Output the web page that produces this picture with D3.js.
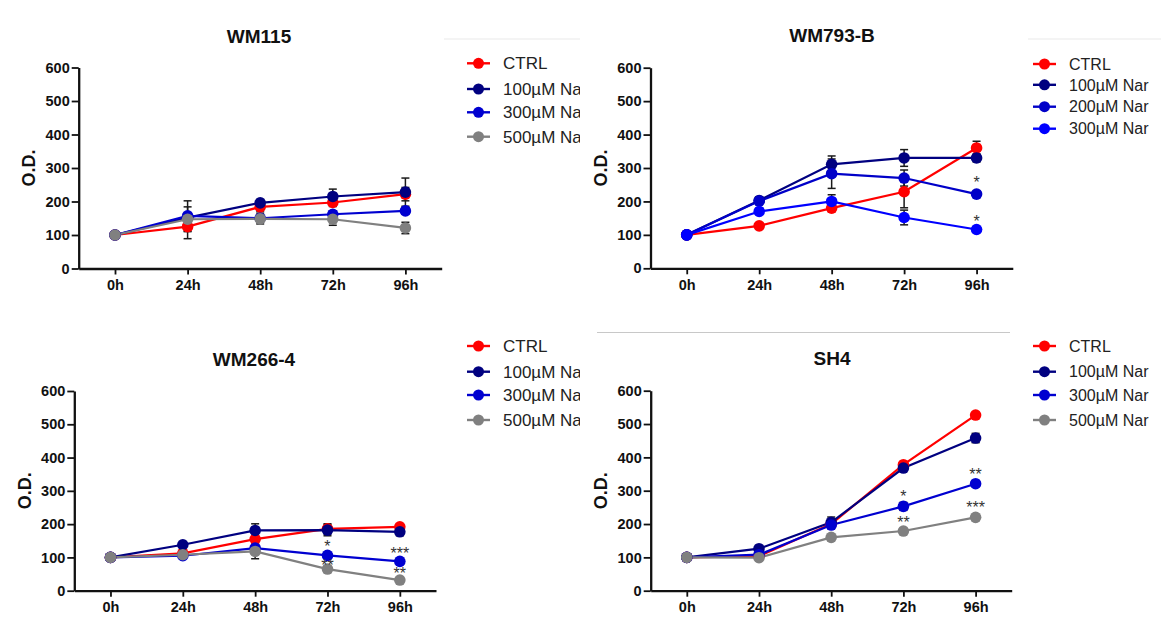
<!DOCTYPE html>
<html>
<head>
<meta charset="utf-8">
<script src="https://cdn.jsdelivr.net/npm/d3@7"></script>
<style>
body { margin: 0; background: #fff; }
svg text { font-family: Arial, "Liberation Sans", sans-serif; }
</style>
</head>
<body>
<svg id="chart" width="1161" height="630"></svg>
<script>
timeLabels = ["0h", "24h", "48h", "72h", "96h"]
yTicks = [0, 100, 200, 300, 400, 500, 600]

// WM115
wm115Names = ["CTRL", "100µM Nar", "300µM Nar", "500µM Nar"]
wm115Values = [
    [100, 125, 184, 197, 222],
    [100, 152, 196, 215, 228],
    [100, 157, 150, 162, 172],
    [100, 147, 148, 147, 121]]
wm115Errors = [
    [0, 36, 15, 12, 20],
    [0, 8, 10, 22, 42],
    [0, 45, 8, 10, 10],
    [0, 37, 15, 18, 17]]
wm115Stars = []

// WM793-B
wm793Names = ["CTRL", "100µM Nar", "200µM Nar", "300µM Nar"]
wm793Values = [
    [100, 127, 180, 229, 360],
    [100, 203, 311, 330, 330],
    [100, 201, 283, 270, 222],
    [100, 170, 200, 152, 116]]
wm793Errors = [
    [0, 8, 10, 48, 20],
    [0, 5, 25, 25, 12],
    [0, 5, 44, 24, 8],
    [0, 8, 20, 22, 8]]
wm793Stars = [["96h", 266, "*"], ["96h", 149, "*"]]

// WM266-4
wm266Names = ["CTRL", "100µM Nar", "300µM Nar", "500µM Nar"]
wm266Values = [
    [100, 112, 155, 186, 192],
    [100, 138, 181, 182, 177],
    [100, 105, 128, 106, 88],
    [100, 108, 118, 65, 32]]
wm266Errors = [
    [0, 5, 10, 15, 8],
    [0, 6, 20, 17, 12],
    [0, 5, 10, 8, 6],
    [0, 6, 22, 8, 5]]
wm266Stars = [["72h", 143, "*"], ["72h", 86, "**"], ["96h", 123, "***"], ["96h", 61, "**"]]

// SH4
sh4Names = ["CTRL", "100µM Nar", "300µM Nar", "500µM Nar"]
sh4Values = [
    [100, 104, 200, 378, 527],
    [100, 126, 205, 368, 458],
    [100, 108, 197, 253, 321],
    [100, 99, 160, 179, 220]]
sh4Errors = [
    [0, 4, 8, 8, 6],
    [0, 5, 16, 8, 14],
    [0, 4, 6, 12, 6],
    [0, 3, 6, 6, 6]]
sh4Stars = [["72h", 294, "*"], ["72h", 215, "**"], ["96h", 359, "**"], ["96h", 259, "***"]]

colorsA = ["#ff0000", "#000080", "#0000d0", "#808080"]
colorsB = ["#ff0000", "#000080", "#0000c8", "#0000ff"]

const svg = d3.select("#chart")

svg.append("defs").append("clipPath").attr("id", "clipLeft")
    .append("rect").attr("x", 0).attr("y", 0).attr("width", 580).attr("height", 630)

// faint frame lines left over from the pasted panels
svg.append("line").attr("x1", 444).attr("x2", 580).attr("y1", 39).attr("y2", 39)
    .attr("stroke", "#f0f0f0").attr("stroke-width", 1.5)
svg.append("line").attr("x1", 1028).attr("x2", 1161).attr("y1", 39).attr("y2", 39)
    .attr("stroke", "#f0f0f0").attr("stroke-width", 1.5)
svg.append("line").attr("x1", 597).attr("x2", 1010).attr("y1", 332.5).attr("y2", 332.5)
    .attr("stroke", "#c8c8c8").attr("stroke-width", 1.2)

panels = [
    { title: "WM115", names: wm115Names, values: wm115Values, errors: wm115Errors, stars: wm115Stars, colors: colorsA,
      left: 78.7, right: 441.7, top: 67.5, bottom: 268.5, titleX: 259, titleY: 43,
      legX: 467, legRows: [63.3, 89, 112.3, 136.7], legFont: 17, clip: true },
    { title: "WM793-B", names: wm793Names, values: wm793Values, errors: wm793Errors, stars: wm793Stars, colors: colorsB,
      left: 650.5, right: 1012.8, top: 67.7, bottom: 268.3, titleX: 832, titleY: 42,
      legX: 1033, legRows: [64, 84.8, 106.7, 128.7], legFont: 16, clip: false },
    { title: "WM266-4", names: wm266Names, values: wm266Values, errors: wm266Errors, stars: wm266Stars, colors: colorsA,
      left: 74.3, right: 436, top: 391, bottom: 590.7, titleX: 254, titleY: 366,
      legX: 467, legRows: [346, 371.7, 395, 420], legFont: 17, clip: true },
    { title: "SH4", names: sh4Names, values: sh4Values, errors: sh4Errors, stars: sh4Stars, colors: colorsA,
      left: 650.7, right: 1011.7, top: 390.7, bottom: 590.7, titleX: 832, titleY: 365,
      legX: 1033, legRows: [346, 371.7, 395, 420], legFont: 16, clip: false }
]

function draw_panel(p) {
    const g = svg.append("g")
    if (p.clip) g.attr("clip-path", "url(#clipLeft)")

    const x = d3.scalePoint().domain(timeLabels).range([p.left, p.right]).padding(0.5)
    const y = d3.scaleLinear().domain([0, 600]).range([p.bottom, p.top])

    const yAxis = g.append("g").attr("transform", "translate(" + p.left + ",0)")
        .call(d3.axisLeft(y).tickValues(yTicks).tickSize(7).tickSizeOuter(0).tickPadding(2))
    const xAxis = g.append("g").attr("transform", "translate(0," + p.bottom + ")")
        .call(d3.axisBottom(x).tickSize(6).tickSizeOuter(0).tickPadding(5))

    for (const ax of [yAxis, xAxis]) {
        ax.select(".domain").attr("stroke", "#111").attr("stroke-width", 2.3)
        ax.selectAll(".tick line").attr("stroke", "#111").attr("stroke-width", 1.8)
        ax.selectAll(".tick text").attr("fill", "#111").attr("font-size", 14.5)
            .attr("font-weight", "bold").attr("font-family", "Arial, 'Liberation Sans', sans-serif")
    }

    g.append("text")
        .attr("x", p.titleX).attr("y", p.titleY)
        .attr("text-anchor", "middle").attr("font-size", 19).attr("font-weight", "bold")
        .attr("fill", "#111").text(p.title)

    g.append("text")
        .attr("transform", "translate(" + (p.left - 50) + "," + ((p.top + p.bottom) / 2) + ") rotate(-90)")
        .attr("text-anchor", "middle").attr("font-size", 18).attr("font-weight", "bold")
        .attr("fill", "#111").attr("dy", "0.35em").text("O.D.")

    const line = d3.line().x((d, i) => x(timeLabels[i])).y(d => y(d))

    const series = g.append("g")
    p.values.forEach(function (vals, s) {
        series.append("path")
            .attr("d", line(vals))
            .attr("fill", "none")
            .attr("stroke", p.colors[s])
            .attr("stroke-width", 2.2)
    })

    // error bars sit behind the symbols
    const bars = series.append("g").attr("stroke", "#1a1a1a").attr("stroke-width", 1.5)
    p.values.forEach(function (vals, s) {
        vals.forEach(function (v, i) {
            const e = p.errors[s][i]
            if (e <= 0) return
            const cx = x(timeLabels[i])
            bars.append("line").attr("x1", cx).attr("x2", cx).attr("y1", y(v - e)).attr("y2", y(v + e))
            bars.append("line").attr("x1", cx - 4).attr("x2", cx + 4).attr("y1", y(v - e)).attr("y2", y(v - e))
            bars.append("line").attr("x1", cx - 4).attr("x2", cx + 4).attr("y1", y(v + e)).attr("y2", y(v + e))
        })
    })

    p.values.forEach(function (vals, s) {
        series.append("g").selectAll("circle")
            .data(vals)
            .join("circle")
            .attr("cx", (d, i) => x(timeLabels[i]))
            .attr("cy", d => y(d))
            .attr("r", 5.8)
            .attr("fill", p.colors[s])
    })

    g.append("g").selectAll("text")
        .data(p.stars)
        .join("text")
        .attr("x", d => x(d[0]))
        .attr("y", d => y(d[1]) + 9)
        .attr("text-anchor", "middle")
        .attr("font-size", 16)
        .attr("fill", "#333")
        .text(d => d[2])

    // legend
    const leg = g.append("g")
    p.names.forEach(function (name, s) {
        const ly = p.legRows[s]
        leg.append("line").attr("x1", p.legX).attr("x2", p.legX + 23).attr("y1", ly).attr("y2", ly)
            .attr("stroke", p.colors[s]).attr("stroke-width", 2.4)
        leg.append("circle").attr("cx", p.legX + 11.5).attr("cy", ly).attr("r", 5.5).attr("fill", p.colors[s])
        leg.append("text").attr("x", p.legX + 36).attr("y", ly).attr("dy", "0.36em")
            .attr("font-size", p.legFont).attr("fill", "#222").text(name)
    })
}

for (const p of panels) {
    draw_panel(p)
}
</script>
</body>
</html>
